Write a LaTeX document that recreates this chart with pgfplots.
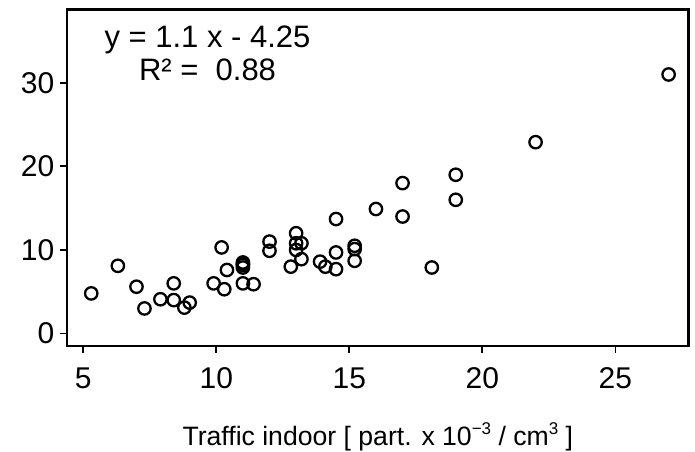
\documentclass[border=0pt]{standalone}
\usepackage{fontspec}
\setmainfont{Liberation Sans}
\usepackage{pgfplots}
\pgfplotsset{compat=1.18}
\begin{document}
\begin{tikzpicture}
\path[use as bounding box] (-33.65pt,-52.65pt) rectangle (313.85pt,172.85pt);
\begin{axis}[
  at={(0pt,0pt)}, anchor=south west,
  scale only axis, width=310.5pt, height=168.2pt,
  xmin=4.4, xmax=27.74, ymin=-1.46, ymax=38.8,
  xtick={5,10,15,20,25}, ytick={0,10,20,30},
  tick align=outside, tick pos=left,
  major tick length=3.5pt,
  every tick/.style={black, line width=0.9pt},
  axis line style={line width=1.2pt},
  /pgf/number format/assume math mode=true,
  tick label style={font=\fontsize{15}{18}\selectfont},
  xticklabel style={yshift=-4pt},
  yticklabel style={xshift=0.5pt},
  xlabel={Traffic indoor [ part. x 10\raisebox{0.75ex}{\fontsize{8.5}{10}\selectfont −3} / cm\raisebox{0.75ex}{\fontsize{8.5}{10}\selectfont 3} ]},
  xlabel style={font=\fontsize{13.3}{16}\selectfont, yshift=-10pt},
  clip=false,
]
\addplot[only marks, mark=o, mark size=3.1pt, mark options={line width=1.15pt, black}] coordinates {
(5.3,4.8) (6.3,8.1) (7.0,5.6) (7.3,3.0) (7.9,4.1) (8.4,6.0) (8.4,4.0)
(8.8,3.1) (9.0,3.7) (9.9,6.0) (10.2,10.3) (10.3,5.3) (10.4,7.6)
(11.0,8.5) (11.0,8.2) (11.0,7.9) (11.0,8.3) (11.0,6.0) (11.4,5.9)
(12.0,11.0) (12.0,9.9) (12.8,8.0) (13.0,12.0) (13.0,10.8) (13.2,10.8)
(13.0,10.0) (13.2,8.9) (13.9,8.6) (14.1,8.0) (14.5,13.7) (14.5,9.7)
(14.5,7.7) (15.2,10.5) (15.2,10.1) (15.2,8.7) (16.0,14.9) (17.0,18.0)
(17.0,14.0) (18.1,7.9) (19.0,19.0) (19.0,16.0) (22.0,22.9) (27.0,31.0)
};
\node[font=\fontsize{15.5}{18}\selectfont] at (axis cs:9.67,35.1) {y = 1.1 x - 4.25};
\node[font=\fontsize{15.5}{18}\selectfont] at (axis cs:9.67,31.5) {R² =\ \ 0.88};
\end{axis}
\end{tikzpicture}
\end{document}
